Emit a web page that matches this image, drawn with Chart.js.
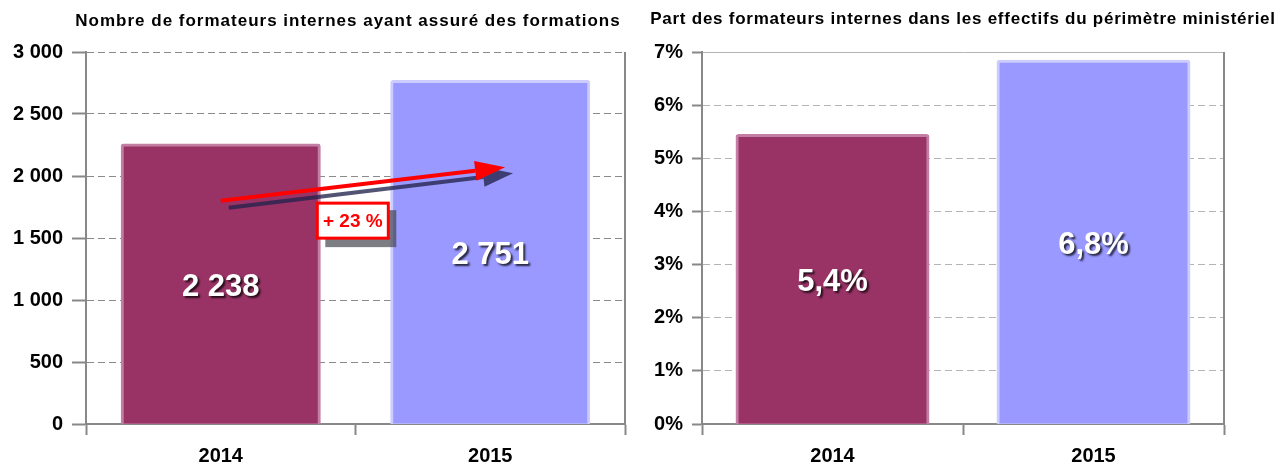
<!DOCTYPE html>
<html>
<head>
<meta charset="utf-8">
<script src="https://cdn.jsdelivr.net/npm/chart.js@4.4.0/dist/chart.umd.min.js"></script>
<style>
  body { margin: 0; background: #fff; width: 1279px; height: 466px; overflow: hidden; }
  .box { position: absolute; top: 0; height: 466px; }
</style>
</head>
<body>
<div class="box" style="left:0;width:640px"><canvas id="leftChart"></canvas></div>
<div class="box" style="left:640px;width:639px"><canvas id="rightChart"></canvas></div>
<script>
// data
const years = ['2014', '2015'];
const formateurs = [2238, 2751];
const formateursLabels = ['2 238', '2 751'];
const partFormateurs = [5.4, 6.8];
const partLabels = ['5,4%', '6,8%'];
const leftTitle = 'Nombre de formateurs internes ayant assuré des formations';
const rightTitle = 'Part des formateurs internes dans les effectifs du périmètre ministériel';
const evolutionLabel = '+ 23 %';

const barColors = ['#993366', '#9999ff'];
const barBorders = ['#c27fa3', '#ccccff'];
const FONT = "'Liberation Sans', Arial, sans-serif";

function spaced(v) {
    return String(v).replace(/\B(?=(\d{3})+$)/g, ' ');
}

// title drawn above the plot
const titlePlugin = {
    id: 'topTitle',
    afterDraw(chart, args, opts) {
        const ctx = chart.ctx;
        ctx.save();
        ctx.font = 'bold 17px ' + FONT;
        ctx.letterSpacing = opts.spacing + 'px';
        ctx.fillStyle = '#000';
        ctx.textAlign = 'center';
        ctx.textBaseline = 'middle';
        ctx.fillText(opts.text, opts.x, opts.y);
        ctx.restore();
    }
};

// right edge of the plot frame
const framePlugin = {
    id: 'frame',
    beforeDatasetsDraw(chart) {
        const { ctx, chartArea } = chart;
        ctx.save();
        ctx.strokeStyle = '#888';
        ctx.lineWidth = 2;
        ctx.beginPath();
        ctx.moveTo(chartArea.right, chartArea.top);
        ctx.lineTo(chartArea.right, chartArea.bottom);
        ctx.stroke();
        ctx.restore();
    }
};

// values written inside the bars
const valueLabels = {
    id: 'valueLabels',
    afterDatasetsDraw(chart, args, opts) {
        const ctx = chart.ctx;
        const meta = chart.getDatasetMeta(0);
        ctx.save();
        ctx.font = 'bold 31px ' + FONT;
        ctx.textAlign = 'center';
        ctx.textBaseline = 'middle';
        ctx.shadowColor = 'rgba(0,0,0,0.75)';
        ctx.shadowOffsetX = 2;
        ctx.shadowOffsetY = 2;
        ctx.shadowBlur = 2;
        ctx.fillStyle = '#fff';
        meta.data.forEach((bar, i) => {
            ctx.fillText(opts.labels[i], bar.x, (bar.y + bar.base) / 2 + 2);
        });
        ctx.restore();
    }
};

// growth arrow and its box (left chart)
const arrowFrom = { x: 0, y: 1800 };
const arrowTo = { x: 1.055, y: 2070 };
const boxAt = { x: 0.49, y: 1640 };

function drawArrow(ctx, x1, y1, x2, y2, color, width) {
    const ang = Math.atan2(y2 - y1, x2 - x1);
    const headLen = 30, headW = 10;
    const bx = x2 - headLen * Math.cos(ang), by = y2 - headLen * Math.sin(ang);
    ctx.strokeStyle = color;
    ctx.fillStyle = color;
    ctx.lineWidth = width;
    ctx.beginPath();
    ctx.moveTo(x1, y1);
    ctx.lineTo(bx, by);
    ctx.stroke();
    ctx.beginPath();
    ctx.moveTo(x2, y2);
    ctx.lineTo(bx + headW * Math.sin(ang), by - headW * Math.cos(ang));
    ctx.lineTo(bx - headW * Math.sin(ang), by + headW * Math.cos(ang));
    ctx.closePath();
    ctx.fill();
}

const growthPlugin = {
    id: 'growth',
    afterDatasetsDraw(chart) {
        const { ctx, scales } = chart;
        const x1 = scales.x.getPixelForValue(arrowFrom.x), y1 = scales.y.getPixelForValue(arrowFrom.y);
        const x2 = scales.x.getPixelForValue(arrowTo.x), y2 = scales.y.getPixelForValue(arrowTo.y);
        ctx.save();
        drawArrow(ctx, x1 + 8, y1 + 7, x2 + 8, y2 + 6, 'rgba(35,35,75,0.78)', 4);
        drawArrow(ctx, x1, y1, x2, y2, '#ff0000', 4);

        const cx = scales.x.getPixelForValue(boxAt.x), cy = scales.y.getPixelForValue(boxAt.y);
        const w = 71, h = 35;
        ctx.fillStyle = 'rgba(70,70,80,0.7)';
        ctx.fillRect(cx - w / 2 + 8, cy - h / 2 + 7, w, h + 2);
        ctx.fillStyle = '#fff';
        ctx.fillRect(cx - w / 2, cy - h / 2, w, h);
        ctx.strokeStyle = '#ff0000';
        ctx.lineWidth = 3;
        ctx.strokeRect(cx - w / 2, cy - h / 2, w, h);
        ctx.font = 'bold 19px ' + FONT;
        ctx.fillStyle = '#ff0000';
        ctx.textAlign = 'center';
        ctx.textBaseline = 'middle';
        ctx.fillText(evolutionLabel, cx, cy + 1);
        ctx.restore();
    }
};

function makeOptions(cfg) {
    return {
        responsive: true,
        maintainAspectRatio: false,
        animation: false,
        events: [],
        layout: { padding: { top: 52, right: cfg.padRight, left: 0, bottom: 0 } },
        plugins: {
            legend: { display: false },
            tooltip: { enabled: false },
            topTitle: { text: cfg.title, x: cfg.titleX, y: cfg.titleY, spacing: cfg.titleSpacing },
            valueLabels: { labels: cfg.labels }
        },
        scales: {
            x: {
                afterFit(scale) { scale.height = 42; },
                grid: {
                    offset: true,
                    drawOnChartArea: false,
                    tickLength: 11,
                    tickColor: '#888',
                    tickWidth: 2
                },
                border: { color: '#888', width: 2 },
                ticks: {
                    color: '#000',
                    padding: 9,
                    font: { family: FONT, size: 20, weight: 'bold' }
                }
            },
            y: {
                min: 0,
                max: cfg.max,
                afterFit(scale) { scale.width = cfg.axisWidth; },
                grid: {
                    color: cfg.gridColor,
                    lineWidth: 1,
                    tickLength: cfg.tickLength,
                    tickColor: '#888',
                    tickWidth: 2,
                    tickBorderDash: []
                },
                border: {
                    color: '#888',
                    width: 2,
                    dash: ctx => (ctx.tick && (ctx.tick.value === 0 || cfg.solidTop && ctx.tick.value === cfg.max)) ? [] : [7, 4]
                },
                ticks: {
                    stepSize: cfg.step,
                    color: '#000',
                    padding: 9,
                    font: { family: FONT, size: 20, weight: 'bold' },
                    callback: cfg.tickFormat
                }
            }
        }
    };
}

function barDataset(values) {
    return {
        data: values,
        backgroundColor: barColors,
        borderColor: barBorders,
        borderWidth: 3,
        borderRadius: 3,
        borderSkipped: false,
        inflateAmount: 3,
        categoryPercentage: 1,
        barPercentage: 0.72
    };
}

new Chart(document.getElementById('leftChart'), {
    type: 'bar',
    data: { labels: years, datasets: [barDataset(formateurs)] },
    options: makeOptions({
        title: leftTitle, titleX: 348, titleY: 21, titleSpacing: 1.0, labels: formateursLabels,
        padRight: 15, max: 3000, step: 500, axisWidth: 86, tickLength: 14,
        gridColor: '#8a8a8a', solidTop: false,
        tickFormat: v => spaced(v)
    }),
    plugins: [titlePlugin, framePlugin, valueLabels, growthPlugin]
});

new Chart(document.getElementById('rightChart'), {
    type: 'bar',
    data: { labels: years, datasets: [barDataset(partFormateurs)] },
    options: makeOptions({
        title: rightTitle, titleX: 323, titleY: 19, titleSpacing: 0.75, labels: partLabels,
        padRight: 55, max: 7, step: 1, axisWidth: 62, tickLength: 10,
        gridColor: '#b4b4b4', solidTop: true,
        tickFormat: v => v + '%'
    }),
    plugins: [titlePlugin, framePlugin, valueLabels]
});
</script>
</body>
</html>
